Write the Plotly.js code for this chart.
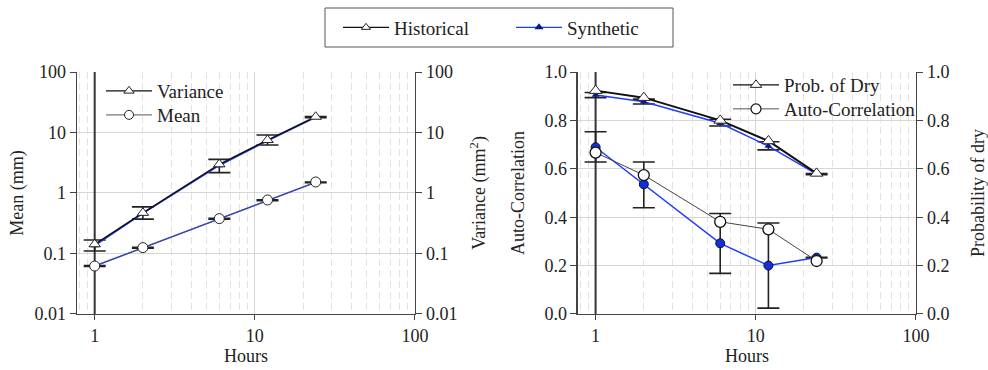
<!DOCTYPE html>
<html><head><meta charset="utf-8">
<script src="https://cdn.plot.ly/plotly-3.0.1.min.js"></script>
<style>html,body{margin:0;padding:0;background:#fff}#chart{width:988px;height:370px}</style>
</head><body><div id="chart"></div>
<script>
// ---- data ----
const hours = [1, 2, 6, 12, 24];

const histVariance   = [0.142, 0.47, 2.98, 7.5, 18.2];
const synVariance    = [0.135, 0.46, 2.85, 7.3, 17.8];
const synVarianceHi  = [0.167, 0.59, 3.6, 9.1, 18.4];
const synVarianceLo  = [0.110, 0.37, 2.17, 6.2, 17.6];

const histMean   = [0.062, 0.125, 0.377, 0.766, 1.52];
const synMean    = [0.062, 0.124, 0.374, 0.760, 1.50];
const synMeanHi  = [0.063, 0.126, 0.380, 0.772, 1.52];
const synMeanLo  = [0.061, 0.122, 0.368, 0.748, 1.48];

const histProbDry  = [0.923, 0.894, 0.800, 0.715, 0.581];
const synProbDry   = [0.905, 0.877, 0.788, 0.694, 0.578];
const synProbDryHi = [0.915, 0.888, 0.805, 0.712, 0.580];
const synProbDryLo = [0.894, 0.868, 0.777, 0.678, 0.576];

const histAutoCorr  = [0.667, 0.574, 0.381, 0.350, 0.219];
const synAutoCorr   = [0.689, 0.536, 0.292, 0.200, 0.233];
const synAutoCorrHi = [0.753, 0.628, 0.415, 0.376, 0.234];
const synAutoCorrLo = [0.628, 0.439, 0.168, 0.024, 0.232];

const logTickVals  = [0.01, 0.1, 1, 10, 100];
const logTickText  = ['0.01', '0.1', '1', '10', '100'];
const hourTickVals = [1, 10, 100];
const hourTickText = ['1', '10', '100'];
const linTickVals  = [0, 0.2, 0.4, 0.6, 0.8, 1.0];
const linTickText  = ['0.0', '0.2', '0.4', '0.6', '0.8', '1.0'];
const refHour = 1;
const logSpan = [0.01, 100];
const linSpan = [0, 1];

// ---- styles ----
const FONT = 'Liberation Serif';
const BLUE = '#1f3cff';
const NAVY = '#0a1a8c';
const ERR = '#222';

function plus(v, hi) { return v.map((d, i) => hi[i] - d); }
function minus(v, lo) { return v.map((d, i) => d - lo[i]); }
function errBar(v, hi, lo) {
  return {type: 'data', symmetric: false, array: plus(v, hi), arrayminus: minus(v, lo),
          color: ERR, thickness: 1.6, width: 11};
}

const traces = [
  // vertical reference line at 1 hour, full panel height
  {x: [refHour, refHour], y: logSpan, xaxis: 'x', yaxis: 'y', mode: 'lines', showlegend: false,
   line: {color: '#333', width: 2}, cliponaxis: false},
  {x: [refHour, refHour], y: linSpan, xaxis: 'x2', yaxis: 'y3', mode: 'lines', showlegend: false,
   line: {color: '#333', width: 2}, cliponaxis: false},

  {x: hours, y: synVariance, xaxis: 'x', yaxis: 'y2', mode: 'lines+markers', showlegend: false,
   line: {color: BLUE, width: 1.5}, marker: {symbol: 'triangle-up', size: 7, color: NAVY},
   error_y: errBar(synVariance, synVarianceHi, synVarianceLo)},
  {x: hours, y: synMean, xaxis: 'x', yaxis: 'y', mode: 'lines+markers', showlegend: false,
   line: {color: BLUE, width: 1.5}, marker: {symbol: 'circle', size: 7, color: NAVY},
   error_y: errBar(synMean, synMeanHi, synMeanLo)},
  {x: hours, y: histVariance, xaxis: 'x', yaxis: 'y2', mode: 'lines+markers', showlegend: false,
   line: {color: '#111', width: 1.5},
   marker: {symbol: 'triangle-up', size: 10, color: '#fff', line: {color: '#222', width: 1}}},
  {x: hours, y: histMean, xaxis: 'x', yaxis: 'y', mode: 'lines+markers', showlegend: false,
   line: {color: '#555', width: 0.8},
   marker: {symbol: 'circle', size: 10, color: '#fff', line: {color: '#222', width: 1}}},

  {x: hours, y: synProbDry, xaxis: 'x2', yaxis: 'y4', mode: 'lines+markers', showlegend: false,
   line: {color: BLUE, width: 1.5}, marker: {symbol: 'triangle-up', size: 7, color: NAVY},
   error_y: errBar(synProbDry, synProbDryHi, synProbDryLo)},
  {x: hours, y: synAutoCorr, xaxis: 'x2', yaxis: 'y3', mode: 'lines+markers', showlegend: false,
   line: {color: BLUE, width: 1.5},
   marker: {symbol: 'circle', size: 9, color: '#1030e0', line: {color: '#112', width: 1}},
   error_y: errBar(synAutoCorr, synAutoCorrHi, synAutoCorrLo)},
  {x: hours, y: histProbDry, xaxis: 'x2', yaxis: 'y4', mode: 'lines+markers', showlegend: false,
   line: {color: '#111', width: 2},
   marker: {symbol: 'triangle-up', size: 11, color: '#fff', line: {color: '#222', width: 1}}},
  {x: hours, y: histAutoCorr, xaxis: 'x2', yaxis: 'y3', mode: 'lines+markers', showlegend: false,
   line: {color: '#444', width: 1},
   marker: {symbol: 'circle', size: 11, color: '#fff', line: {color: '#111', width: 1.3}}},

  {x: [null], y: [null], xaxis: 'x', yaxis: 'y', name: 'Historical', legend: 'legend', mode: 'lines+markers',
   line: {color: '#111', width: 1.2}, marker: {symbol: 'triangle-up', size: 8, color: '#fff', line: {color: '#222', width: 1}}},
  {x: [null], y: [null], xaxis: 'x', yaxis: 'y', name: 'Synthetic', legend: 'legend', mode: 'lines+markers',
   line: {color: BLUE, width: 1.2}, marker: {symbol: 'triangle-up', size: 8, color: NAVY}},
  {x: [null], y: [null], xaxis: 'x', yaxis: 'y', name: 'Variance', legend: 'legend2', mode: 'lines+markers',
   line: {color: '#111', width: 1.2}, marker: {symbol: 'triangle-up', size: 9, color: '#fff', line: {color: '#222', width: 1}}},
  {x: [null], y: [null], xaxis: 'x', yaxis: 'y', name: 'Mean', legend: 'legend3', mode: 'lines+markers',
   line: {color: '#777', width: 1.2}, marker: {symbol: 'circle', size: 9, color: '#fff', line: {color: '#222', width: 1}}},
  {x: [null], y: [null], xaxis: 'x2', yaxis: 'y3', name: 'Prob. of Dry', legend: 'legend4', mode: 'lines+markers',
   line: {color: '#111', width: 1.2}, marker: {symbol: 'triangle-up', size: 10, color: '#fff', line: {color: '#222', width: 1}}},
  {x: [null], y: [null], xaxis: 'x2', yaxis: 'y3', name: 'Auto-Correlation', legend: 'legend5', mode: 'lines+markers',
   line: {color: '#555', width: 1}, marker: {symbol: 'circle', size: 10, color: '#fff', line: {color: '#111', width: 1.2}}}
];

const YDOM = [0.1514, 0.8054];
const axisFont = {family: FONT, size: 18, color: '#222'};
const baseX = {
  type: 'log', range: [-0.11, 2], tickmode: 'array', tickvals: hourTickVals, ticktext: hourTickText,
  ticks: 'outside', ticklen: 5, tickcolor: '#444', showline: true, linecolor: '#444', linewidth: 1.5,
  showgrid: true, gridcolor: '#d6d6d6', gridwidth: 1, zeroline: false, tickfont: axisFont,
  minor: {showgrid: true, gridcolor: '#e2e2e2', griddash: '7px,4px', gridwidth: 1, dtick: 'D1', ticks: ''},
  title: {text: 'Hours', font: axisFont, standoff: 4}
};
const baseLogY = {
  type: 'log', range: [-2, 2], domain: YDOM, tickmode: 'array', tickvals: logTickVals, ticktext: logTickText,
  ticks: 'outside', ticklen: 6, tickcolor: '#444', showline: true, linecolor: '#444', linewidth: 1.5,
  showgrid: true, gridcolor: '#d6d6d6', zeroline: false, tickfont: axisFont
};
const baseLinY = {
  range: [0, 1], domain: YDOM, tickmode: 'array', tickvals: linTickVals, ticktext: linTickText,
  ticks: 'outside', ticklen: 6, tickcolor: '#444', showline: true, linecolor: '#444', linewidth: 1.5,
  showgrid: true, gridcolor: '#d6d6d6', zeroline: false, tickfont: axisFont
};
const legFont = {family: FONT, size: 19, color: '#222'};
function panelLegend(xpx, ypx) {
  return {x: xpx / 988, xanchor: 'left', y: 1 - ypx / 370, yanchor: 'middle',
          bgcolor: 'rgba(0,0,0,0)', itemwidth: 46, font: legFont};
}

const layout = {
  width: 988, height: 370, margin: {l: 0, r: 0, t: 0, b: 0},
  paper_bgcolor: '#fff', plot_bgcolor: '#fff', font: {family: FONT, size: 18, color: '#222'},
  xaxis: Object.assign({}, baseX, {domain: [0.078, 0.420], anchor: 'y'}),
  yaxis: Object.assign({}, baseLogY, {anchor: 'x', side: 'left', title: {text: 'Mean (mm)', font: axisFont, standoff: 6}}),
  yaxis2: Object.assign({}, baseLogY, {anchor: 'x', overlaying: 'y', side: 'right', showgrid: false,
    title: {text: 'Variance (mm<sup>2</sup>)', font: axisFont, standoff: 16}}),
  xaxis2: Object.assign({}, baseX, {domain: [0.585, 0.927], anchor: 'y3'}),
  yaxis3: Object.assign({}, baseLinY, {anchor: 'x2', side: 'left', title: {text: 'Auto-Correlation', font: axisFont, standoff: 15}}),
  yaxis4: Object.assign({}, baseLinY, {anchor: 'x2', overlaying: 'y3', side: 'right', showgrid: false,
    title: {text: 'Probability of dry', font: axisFont, standoff: 27}}),
  shapes: [
    // frame of the top legend
    {type: 'rect', xref: 'paper', yref: 'paper', x0: 325 / 988, x1: 673 / 988, y0: 1 - 47 / 370, y1: 1 - 8 / 370,
     line: {color: '#555', width: 1}, fillcolor: 'rgba(0,0,0,0)'}
  ],
  legend: {orientation: 'h', x: 338 / 988, xanchor: 'left', y: 1 - 27.5 / 370, yanchor: 'middle', itemwidth: 46,
    entrywidth: 112, borderwidth: 0, bgcolor: 'rgba(0,0,0,0)', font: legFont},
  legend2: panelLegend(101, 91),
  legend3: panelLegend(101, 115),
  legend4: panelLegend(728, 85),
  legend5: panelLegend(728, 109)
};

Plotly.newPlot('chart', traces, layout, {displayModeBar: false, staticPlot: true});
</script>
</body></html>
